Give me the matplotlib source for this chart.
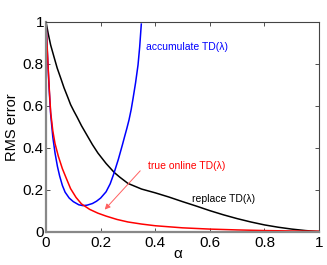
import numpy as np
import matplotlib
matplotlib.use("Agg")
from matplotlib import pyplot as plt

plt.rcParams['font.family'] = ['Liberation Sans', 'DejaVu Sans']

# values
alpha_acc = [0, 0.004, 0.008, 0.012, 0.017, 0.025, 0.033, 0.042, 0.05, 0.06, 0.07, 0.085,
             0.1, 0.12, 0.135, 0.15, 0.17, 0.185, 0.2, 0.22, 0.235, 0.248, 0.265,
             0.28, 0.288, 0.296, 0.304, 0.312, 0.319, 0.328, 0.337, 0.343, 0.349]
rms_acc = [1, 0.88, 0.77, 0.67, 0.56, 0.45, 0.375, 0.31, 0.265, 0.22, 0.188, 0.16,
           0.143, 0.128, 0.124, 0.126, 0.134, 0.145, 0.16, 0.19, 0.228, 0.275, 0.345,
           0.415, 0.454, 0.492, 0.533, 0.583, 0.637, 0.71, 0.795, 0.88, 0.99]

alpha_rep = [0, 0.008, 0.017, 0.03, 0.041, 0.055, 0.066, 0.08, 0.09, 0.102, 0.114, 0.13,
             0.15, 0.17, 0.19, 0.22, 0.25, 0.27, 0.3, 0.35, 0.4, 0.45, 0.5, 0.55,
             0.6, 0.65, 0.7, 0.75, 0.8, 0.85, 0.9, 0.95, 1.0]
rms_rep = [1, 0.945, 0.89, 0.83, 0.78, 0.728, 0.686, 0.64, 0.606, 0.575, 0.546, 0.505,
           0.46, 0.415, 0.375, 0.325, 0.282, 0.26, 0.23, 0.203, 0.185, 0.165, 0.143, 0.122,
           0.1, 0.08, 0.062, 0.046, 0.032, 0.021, 0.012, 0.005, 0.0]

alpha_tol = [0, 0.004, 0.008, 0.012, 0.017, 0.025, 0.033, 0.045, 0.06, 0.075, 0.09, 0.11,
             0.13, 0.16, 0.19, 0.22, 0.26, 0.3, 0.35, 0.4, 0.5, 0.6, 0.7, 0.8, 0.9, 1.0]
rms_tol = [1, 0.89, 0.78, 0.68, 0.57, 0.48, 0.42, 0.36, 0.3, 0.252, 0.205, 0.163,
           0.132, 0.106, 0.088, 0.074, 0.058, 0.046, 0.036, 0.028, 0.018, 0.012, 0.008,
           0.005, 0.003, 0.002]

ticks = [0, 0.2, 0.4, 0.6, 0.8, 1]
tick_labels = ['0', '0.2', '0.4', '0.6', '0.8', '1']

fig = plt.figure(figsize=(3.27, 2.65), dpi=100)
ax = fig.add_axes([0.1407, 0.126, 0.835, 0.791])

ax.plot(alpha_rep, rms_rep, color='black', lw=1.1)
ax.plot(alpha_acc, rms_acc, color='#0000ff', lw=1.1)
ax.plot(alpha_tol, rms_tol, color='#ff0000', lw=1.1)

ax.text(0.368, 0.882, 'accumulate TD(λ)', color='#0000ff', fontsize=7.5, va='center')
ax.text(0.373, 0.314, 'true online TD(λ)', color='#ff0000', fontsize=7.5, va='center')
ax.text(0.534, 0.157, 'replace TD(λ)', color='black', fontsize=7.5, va='center')
ax.annotate('', xy=(0.215, 0.105), xytext=(0.345, 0.29),
            arrowprops=dict(arrowstyle='-|>', color='#ff6060', lw=0.7,
                            mutation_scale=8, shrinkA=0, shrinkB=0))

ax.set_xlim(0, 1)
ax.set_ylim(0, 1)
ax.set_xticks(ticks)
ax.set_xticklabels(tick_labels)
ax.set_yticks(ticks)
ax.set_yticklabels(tick_labels)
ax.tick_params(direction='in', length=3, width=0.6, labelsize=11, pad=1.5,
               top=True, right=True, colors='#333333', labelcolor='black')
ax.tick_params(axis='x', pad=3)
ax.set_xlabel('α', fontsize=11)
ax.set_ylabel('RMS error', fontsize=10.5)
ax.xaxis.set_label_coords(0.483, -0.075)
ax.yaxis.set_label_coords(-0.098, 0.5)

for side in ['left', 'bottom']:
    ax.spines[side].set_color('#888888')
    ax.spines[side].set_linewidth(1.6)
for side in ['top', 'right']:
    ax.spines[side].set_color('#444444')
    ax.spines[side].set_linewidth(0.8)

fig.savefig('out.png', dpi=100)
